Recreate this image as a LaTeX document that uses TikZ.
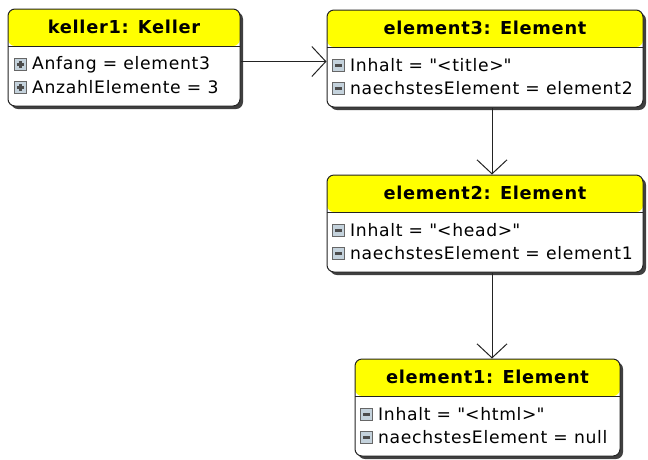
\documentclass[tikz,border=0pt]{standalone}
\usepackage{fontspec}
\setmainfont[LetterSpace=4]{DejaVu Sans}
\usetikzlibrary{positioning,shadows,arrows.meta}

\definecolor{titleyellow}{RGB}{255,255,0}
\definecolor{iconfill}{RGB}{196,210,220}
\definecolor{linegray}{RGB}{35,35,35}

\tikzset{
	objbox/.style={shape=rectangle, rounded corners=7pt, draw=linegray, line width=1pt, fill=white,
		minimum height=97pt, inner sep=0pt,
		drop shadow={shadow xshift=3pt, shadow yshift=-3pt, fill=black!75, opacity=1},
		path picture={
			\fill[titleyellow] (path picture bounding box.north west) rectangle ([yshift=-37pt]path picture bounding box.north east);
			\draw[linegray, line width=1pt] ([yshift=-37pt]path picture bounding box.north west) -- ([yshift=-37pt]path picture bounding box.north east);
		}},
	titletext/.style={font=\fontsize{17.8}{20}\selectfont\bfseries, inner sep=0pt},
	attrtext/.style={font=\fontsize{17.2}{20}\selectfont, inner sep=0pt, anchor=west},
	icon/.style={shape=rectangle, draw=black!60, fill=iconfill, minimum size=12pt, inner sep=0pt, line width=0.9pt},
	minusicon/.style={icon, path picture={
			\draw[black!70, line width=2.2pt] ([xshift=-3.5pt]path picture bounding box.center) -- ([xshift=3.5pt]path picture bounding box.center);}},
	plusicon/.style={icon, path picture={
			\draw[black!70, line width=2.2pt] ([xshift=-3.5pt]path picture bounding box.center) -- ([xshift=3.5pt]path picture bounding box.center);
			\draw[black!70, line width=2.2pt] ([yshift=-3.5pt]path picture bounding box.center) -- ([yshift=3.5pt]path picture bounding box.center);}},
	assoc/.style={draw=linegray, line width=1pt, -{Straight Barb[length=14pt, width=30pt, line width=1pt]}}
}

\begin{document}
\begin{tikzpicture}[x=1pt, y=-1pt]
	\useasboundingbox (0,0) rectangle (648,459);
	
	% keller
	\node (keller1)[objbox, minimum width=232pt] at (124,57.5) {};
	\node (k1title)[titletext] at ([yshift=-18.5pt]keller1.north) {keller1: Keller};
	\node (k1i1)[plusicon] at ([xshift=13pt, yshift=-56pt]keller1.north west) {};
	\node (k1i2)[plusicon] at ([xshift=13pt, yshift=-79pt]keller1.north west) {};
	\node (k1a1)[attrtext, right=5pt of k1i1] {Anfang = element3};
	\node (k1a2)[attrtext, right=5pt of k1i2] {AnzahlElemente = 3};
	
	% element3
	\node (element3)[objbox, minimum width=316pt] at (485,58.5) {};
	\node (e3title)[titletext] at ([yshift=-18.5pt]element3.north) {element3: Element};
	\node (e3i1)[minusicon] at ([xshift=12pt, yshift=-56pt]element3.north west) {};
	\node (e3i2)[minusicon] at ([xshift=12pt, yshift=-79pt]element3.north west) {};
	\node (e3a1)[attrtext, right=5pt of e3i1] {Inhalt = \textquotedbl<title>\textquotedbl};
	\node (e3a2)[attrtext, right=5pt of e3i2] {naechstesElement = element2};
	
	% element2
	\node (element2)[objbox, minimum width=316pt] at (485,223.5) {};
	\node (e2title)[titletext] at ([yshift=-18.5pt]element2.north) {element2: Element};
	\node (e2i1)[minusicon] at ([xshift=12pt, yshift=-56pt]element2.north west) {};
	\node (e2i2)[minusicon] at ([xshift=12pt, yshift=-79pt]element2.north west) {};
	\node (e2a1)[attrtext, right=5pt of e2i1] {Inhalt = \textquotedbl<head>\textquotedbl};
	\node (e2a2)[attrtext, right=5pt of e2i2] {naechstesElement = element1};
	
	% element1
	\node (element1)[objbox, minimum width=265pt] at (487.5,407.5) {};
	\node (e1title)[titletext] at ([yshift=-18.5pt]element1.north) {element1: Element};
	\node (e1i1)[minusicon] at ([xshift=12pt, yshift=-56pt]element1.north west) {};
	\node (e1i2)[minusicon] at ([xshift=12pt, yshift=-79pt]element1.north west) {};
	\node (e1a1)[attrtext, right=5pt of e1i1] {Inhalt = \textquotedbl<html>\textquotedbl};
	\node (e1a2)[attrtext, right=5pt of e1i2] {naechstesElement = null};
	
	\draw[assoc] ([yshift=-4pt]keller1.east) -- ([yshift=-4pt]keller1.east -| element3.west);
	\draw[assoc] ([xshift=7pt]element3.south) -- ([xshift=7pt]element3.south |- element2.north);
	\draw[assoc] ([xshift=7pt]element2.south) -- ([xshift=7pt]element2.south |- element1.north);
\end{tikzpicture}
\end{document}
